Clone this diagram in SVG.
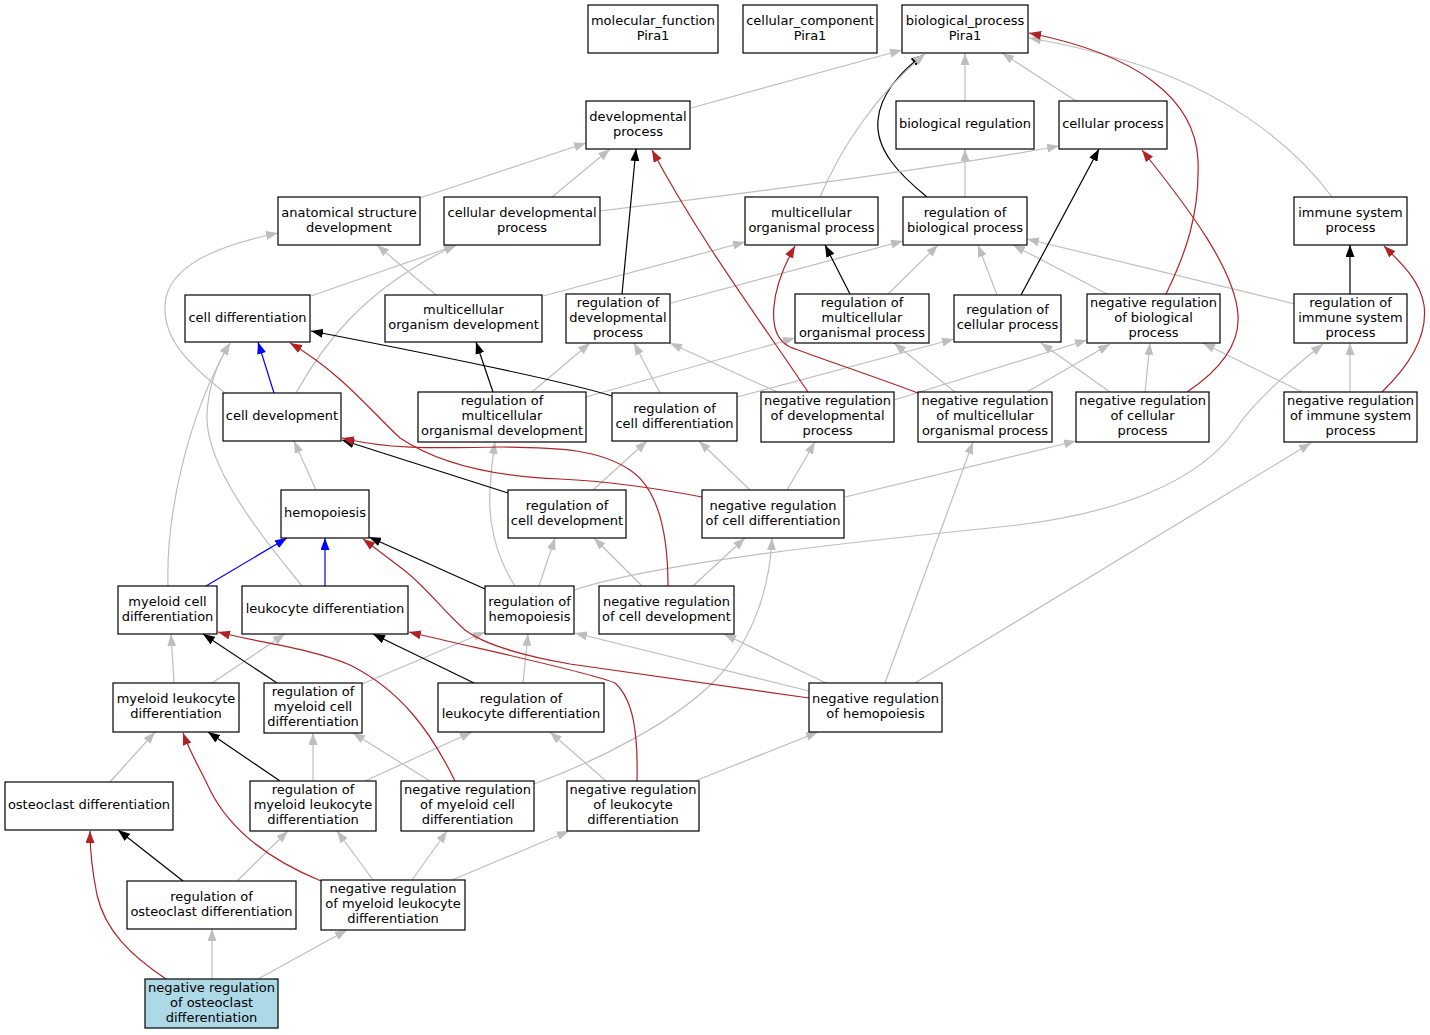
<svg xmlns="http://www.w3.org/2000/svg" width="1430" height="1035" viewBox="0 0 1430 1035">
<style>
.node rect{fill:#ffffff;stroke:#000000;stroke-width:1.2}
.node.hl rect{fill:#add8e6}
.node text{font-family:"DejaVu Sans","Liberation Sans",sans-serif;font-size:13px;fill:#000000;text-anchor:middle}
.e{fill:none;stroke-width:1.2}
.g{stroke:#bebebe;marker-end:url(#ag)}
.k{stroke:#000000;marker-end:url(#ak)}
.r{stroke:#b22222;marker-end:url(#ar)}
.b{stroke:#0000ff;marker-end:url(#ab)}
</style>
<defs>
<marker id="ag" viewBox="0 0 12 9" refX="12" refY="4.5" markerWidth="12" markerHeight="9" markerUnits="userSpaceOnUse" orient="auto"><path d="M0,0L12,4.5L0,9z" fill="#bebebe"/></marker>
<marker id="ak" viewBox="0 0 12 9" refX="12" refY="4.5" markerWidth="12" markerHeight="9" markerUnits="userSpaceOnUse" orient="auto"><path d="M0,0L12,4.5L0,9z" fill="#000000"/></marker>
<marker id="ar" viewBox="0 0 12 9" refX="12" refY="4.5" markerWidth="12" markerHeight="9" markerUnits="userSpaceOnUse" orient="auto"><path d="M0,0L12,4.5L0,9z" fill="#b22222"/></marker>
<marker id="ab" viewBox="0 0 12 9" refX="12" refY="4.5" markerWidth="12" markerHeight="9" markerUnits="userSpaceOnUse" orient="auto"><path d="M0,0L12,4.5L0,9z" fill="#0000ff"/></marker>
</defs>
<rect x="0" y="0" width="1430" height="1035" fill="#ffffff"/>
<g id="edges">
<path class="e k" d="M927,197 C900,175 875,150 878,120 C880,95 900,72 923,55"/>
<path class="e g" d="M691,108 L902,50"/>
<path class="e g" d="M965,101 L965,53"/>
<path class="e g" d="M1076,101 L1002,53"/>
<path class="e g" d="M420,198 L586,143"/>
<path class="e g" d="M552,197 L610,149"/>
<path class="e g" d="M600,211 Q900,175 1059,146"/>
<path class="e g" d="M820,197 C840,150 875,95 925,54"/>
<path class="e g" d="M965,197 L965,149"/>
<path class="e g" d="M1332,197 C1290,140 1220,90 1130,62 C1090,50 1060,43 1029,38"/>
<path class="e g" d="M311,296 L457,245"/>
<path class="e g" d="M436,295 L377,245"/>
<path class="e g" d="M543,296 L745,242"/>
<path class="e g" d="M671,303 L903,241"/>
<path class="e g" d="M888,294 L938,245"/>
<path class="e g" d="M997,295 L978,245"/>
<path class="e g" d="M1107,294 L1013,245"/>
<path class="e g" d="M1295,304 L1027,239"/>
<path class="e g" d="M225,393 C190,365 163,340 165,305 C167,265 220,245 278,233"/>
<path class="e g" d="M296,393 C320,350 360,290 456,245"/>
<path class="e g" d="M532,392 L590,343"/>
<path class="e g" d="M586,397 L795,338"/>
<path class="e g" d="M660,393 L634,343"/>
<path class="e g" d="M737,397 L954,339"/>
<path class="e g" d="M777,392 L670,343"/>
<path class="e g" d="M894,400 L1087,340"/>
<path class="e g" d="M955,392 L894,343"/>
<path class="e g" d="M1027,392 L1110,344"/>
<path class="e g" d="M1110,392 L1041,343"/>
<path class="e g" d="M1145,392 L1150,343"/>
<path class="e g" d="M1350,392 L1350,343"/>
<path class="e g" d="M1302,392 L1203,343"/>
<path class="e g" d="M316,490 L294,441"/>
<path class="e g" d="M593,490 L647,441"/>
<path class="e g" d="M750,490 L699,441"/>
<path class="e g" d="M787,490 L815,442"/>
<path class="e g" d="M845,497 L1076,441"/>
<path class="e g" d="M168,586 C166,520 185,420 230,343"/>
<path class="e g" d="M302,586 C260,535 205,465 207,415 C208,385 218,362 230,343"/>
<path class="e g" d="M539,586 L555,538"/>
<path class="e g" d="M515,586 C495,555 488,520 490,490 C491,470 493,455 495,442"/>
<path class="e g" d="M574,590 C650,565 820,545 1000,527 C1120,515 1200,480 1235,430 C1255,400 1290,370 1323,344"/>
<path class="e g" d="M642,586 L594,538"/>
<path class="e g" d="M693,586 L745,538"/>
<path class="e g" d="M174,683 L171,634"/>
<path class="e g" d="M212,683 L285,634"/>
<path class="e g" d="M362,684 L485,632"/>
<path class="e g" d="M523,683 L528,634"/>
<path class="e g" d="M809,691 L575,633"/>
<path class="e g" d="M826,683 L724,634"/>
<path class="e g" d="M885,683 L973,442"/>
<path class="e g" d="M915,683 L1311,443"/>
<path class="e g" d="M110,782 L155,732"/>
<path class="e g" d="M313,781 L313,733"/>
<path class="e g" d="M365,781 L472,732"/>
<path class="e g" d="M430,781 L353,733"/>
<path class="e g" d="M534,784 C595,762 680,720 720,675 C755,635 770,585 772,538"/>
<path class="e g" d="M606,781 L550,732"/>
<path class="e g" d="M695,781 L818,732"/>
<path class="e g" d="M237,881 L288,831"/>
<path class="e g" d="M373,880 L337,831"/>
<path class="e g" d="M412,880 L447,831"/>
<path class="e g" d="M452,880 L569,831"/>
<path class="e g" d="M212,979 L212,929"/>
<path class="e g" d="M258,979 L347,930"/>
<path class="e k" d="M622,294 L636,149"/>
<path class="e k" d="M850,294 L825,245"/>
<path class="e k" d="M1021,295 L1099,149"/>
<path class="e k" d="M1350,294 L1350,245"/>
<path class="e k" d="M493,392 L476,342"/>
<path class="e k" d="M612,396 C560,380 420,352 311,331"/>
<path class="e k" d="M508,493 L342,440"/>
<path class="e k" d="M485,589 L369,537"/>
<path class="e k" d="M277,683 L203,634"/>
<path class="e k" d="M474,683 L373,634"/>
<path class="e k" d="M280,781 L208,732"/>
<path class="e k" d="M183,881 L118,830"/>
<path class="e r" d="M1166,294 C1185,255 1200,215 1198,160 C1195,100 1140,55 1029,33"/>
<path class="e r" d="M1187,392 C1220,370 1240,345 1238,315 C1235,270 1190,210 1142,150"/>
<path class="e r" d="M1382,392 C1410,365 1428,335 1424,305 C1420,280 1400,262 1384,246"/>
<path class="e r" d="M808,392 C760,320 700,240 652,150"/>
<path class="e r" d="M918,393 C870,375 810,355 790,347 C765,335 770,290 795,246"/>
<path class="e r" d="M702,497 C650,487 600,481 560,479 C480,476 430,458 400,438 C370,410 340,372 290,343"/>
<path class="e r" d="M668,586 C668,540 660,490 630,470 C600,450 560,447 500,447 C440,448 390,450 342,438"/>
<path class="e r" d="M809,698 L570,664 C520,655 485,645 465,630 C440,608 425,585 400,567 C388,558 375,548 363,539"/>
<path class="e r" d="M637,781 C638,735 634,700 615,683 C590,672 470,647 409,632"/>
<path class="e r" d="M455,781 C430,730 400,690 350,665 C310,648 260,643 218,632"/>
<path class="e r" d="M321,881 C270,860 230,830 210,790 C198,765 190,752 183,733"/>
<path class="e r" d="M166,979 C130,955 105,930 97,895 C92,870 90,850 90,831"/>
<path class="e b" d="M274,393 L258,342"/>
<path class="e b" d="M206,586 L287,538"/>
<path class="e b" d="M325,586 L325,538"/>
</g>
<g id="n_mf" class="node"><rect x="588" y="5" width="130" height="48"/><text><tspan x="653" y="24.5">molecular_function</tspan><tspan x="653" y="39.5">Pira1</tspan></text></g>
<g id="n_cc" class="node"><rect x="743" y="5" width="134" height="48"/><text><tspan x="810" y="24.5">cellular_component</tspan><tspan x="810" y="39.5">Pira1</tspan></text></g>
<g id="n_bp" class="node"><rect x="902" y="5" width="126" height="48"/><text><tspan x="965" y="24.5">biological_process</tspan><tspan x="965" y="39.5">Pira1</tspan></text></g>
<g id="n_dp" class="node"><rect x="586" y="101" width="104" height="48"/><text><tspan x="638" y="120.5">developmental</tspan><tspan x="638" y="135.5">process</tspan></text></g>
<g id="n_br" class="node"><rect x="896" y="101" width="138" height="48"/><text><tspan x="965" y="128">biological regulation</tspan></text></g>
<g id="n_cp" class="node"><rect x="1059" y="101" width="108" height="48"/><text><tspan x="1113" y="128">cellular process</tspan></text></g>
<g id="n_asd" class="node"><rect x="278" y="197" width="142" height="48"/><text><tspan x="349" y="216.5">anatomical structure</tspan><tspan x="349" y="231.5">development</tspan></text></g>
<g id="n_cdp" class="node"><rect x="444" y="197" width="156" height="48"/><text><tspan x="522" y="216.5">cellular developmental</tspan><tspan x="522" y="231.5">process</tspan></text></g>
<g id="n_mop" class="node"><rect x="745" y="197" width="133" height="48"/><text><tspan x="811.5" y="216.5">multicellular</tspan><tspan x="811.5" y="231.5">organismal process</tspan></text></g>
<g id="n_rbp" class="node"><rect x="903" y="197" width="124" height="48"/><text><tspan x="965" y="216.5">regulation of</tspan><tspan x="965" y="231.5">biological process</tspan></text></g>
<g id="n_isp" class="node"><rect x="1294" y="197" width="113" height="48"/><text><tspan x="1350.5" y="216.5">immune system</tspan><tspan x="1350.5" y="231.5">process</tspan></text></g>
<g id="n_cd" class="node"><rect x="185" y="295" width="125" height="47"/><text><tspan x="247.5" y="321.5">cell differentiation</tspan></text></g>
<g id="n_mod" class="node"><rect x="385" y="295" width="157" height="47"/><text><tspan x="463.5" y="314">multicellular</tspan><tspan x="463.5" y="329">organism development</tspan></text></g>
<g id="n_rdp" class="node"><rect x="566" y="294" width="104" height="49"/><text><tspan x="618" y="306.5">regulation of</tspan><tspan x="618" y="321.5">developmental</tspan><tspan x="618" y="336.5">process</tspan></text></g>
<g id="n_rmop" class="node"><rect x="795" y="294" width="134" height="49"/><text><tspan x="862" y="306.5">regulation of</tspan><tspan x="862" y="321.5">multicellular</tspan><tspan x="862" y="336.5">organismal process</tspan></text></g>
<g id="n_rcp" class="node"><rect x="954" y="295" width="107" height="47"/><text><tspan x="1007.5" y="314">regulation of</tspan><tspan x="1007.5" y="329">cellular process</tspan></text></g>
<g id="n_nrbp" class="node"><rect x="1087" y="294" width="133" height="49"/><text><tspan x="1153.5" y="306.5">negative regulation</tspan><tspan x="1153.5" y="321.5">of biological</tspan><tspan x="1153.5" y="336.5">process</tspan></text></g>
<g id="n_risp" class="node"><rect x="1294" y="294" width="113" height="49"/><text><tspan x="1350.5" y="306.5">regulation of</tspan><tspan x="1350.5" y="321.5">immune system</tspan><tspan x="1350.5" y="336.5">process</tspan></text></g>
<g id="n_cdev" class="node"><rect x="223" y="393" width="118" height="48"/><text><tspan x="282" y="420">cell development</tspan></text></g>
<g id="n_rmod" class="node"><rect x="418" y="392" width="168" height="50"/><text><tspan x="502" y="405">regulation of</tspan><tspan x="502" y="420">multicellular</tspan><tspan x="502" y="435">organismal development</tspan></text></g>
<g id="n_rcd" class="node"><rect x="612" y="393" width="125" height="48"/><text><tspan x="674.5" y="412.5">regulation of</tspan><tspan x="674.5" y="427.5">cell differentiation</tspan></text></g>
<g id="n_nrdp" class="node"><rect x="761" y="392" width="133" height="50"/><text><tspan x="827.5" y="405">negative regulation</tspan><tspan x="827.5" y="420">of developmental</tspan><tspan x="827.5" y="435">process</tspan></text></g>
<g id="n_nrmop" class="node"><rect x="918" y="392" width="134" height="50"/><text><tspan x="985" y="405">negative regulation</tspan><tspan x="985" y="420">of multicellular</tspan><tspan x="985" y="435">organismal process</tspan></text></g>
<g id="n_nrcp" class="node"><rect x="1076" y="392" width="133" height="50"/><text><tspan x="1142.5" y="405">negative regulation</tspan><tspan x="1142.5" y="420">of cellular</tspan><tspan x="1142.5" y="435">process</tspan></text></g>
<g id="n_nrisp" class="node"><rect x="1284" y="392" width="133" height="50"/><text><tspan x="1350.5" y="405">negative regulation</tspan><tspan x="1350.5" y="420">of immune system</tspan><tspan x="1350.5" y="435">process</tspan></text></g>
<g id="n_hemo" class="node"><rect x="281" y="490" width="88" height="48"/><text><tspan x="325" y="517">hemopoiesis</tspan></text></g>
<g id="n_rcdev" class="node"><rect x="508" y="490" width="118" height="48"/><text><tspan x="567" y="509.5">regulation of</tspan><tspan x="567" y="524.5">cell development</tspan></text></g>
<g id="n_ncd" class="node"><rect x="702" y="490" width="142" height="48"/><text><tspan x="773" y="509.5">negative regulation</tspan><tspan x="773" y="524.5">of cell differentiation</tspan></text></g>
<g id="n_mcd" class="node"><rect x="118" y="586" width="99" height="48"/><text><tspan x="167.5" y="605.5">myeloid cell</tspan><tspan x="167.5" y="620.5">differentiation</tspan></text></g>
<g id="n_ld" class="node"><rect x="242" y="586" width="166" height="48"/><text><tspan x="325" y="613">leukocyte differentiation</tspan></text></g>
<g id="n_rh" class="node"><rect x="485" y="586" width="89" height="48"/><text><tspan x="529.5" y="605.5">regulation of</tspan><tspan x="529.5" y="620.5">hemopoiesis</tspan></text></g>
<g id="n_ncdev" class="node"><rect x="599" y="586" width="135" height="48"/><text><tspan x="666.5" y="605.5">negative regulation</tspan><tspan x="666.5" y="620.5">of cell development</tspan></text></g>
<g id="n_mld" class="node"><rect x="113" y="683" width="126" height="49"/><text><tspan x="176" y="703">myeloid leukocyte</tspan><tspan x="176" y="718">differentiation</tspan></text></g>
<g id="n_rmcd" class="node"><rect x="264" y="683" width="98" height="50"/><text><tspan x="313" y="696">regulation of</tspan><tspan x="313" y="711">myeloid cell</tspan><tspan x="313" y="726">differentiation</tspan></text></g>
<g id="n_rld" class="node"><rect x="438" y="683" width="166" height="49"/><text><tspan x="521" y="703">regulation of</tspan><tspan x="521" y="718">leukocyte differentiation</tspan></text></g>
<g id="n_nrh" class="node"><rect x="809" y="683" width="133" height="49"/><text><tspan x="875.5" y="703">negative regulation</tspan><tspan x="875.5" y="718">of hemopoiesis</tspan></text></g>
<g id="n_od" class="node"><rect x="5" y="782" width="168" height="48"/><text><tspan x="89" y="809">osteoclast differentiation</tspan></text></g>
<g id="n_rmld" class="node"><rect x="250" y="781" width="126" height="50"/><text><tspan x="313" y="794">regulation of</tspan><tspan x="313" y="809">myeloid leukocyte</tspan><tspan x="313" y="824">differentiation</tspan></text></g>
<g id="n_nmcd" class="node"><rect x="401" y="781" width="133" height="50"/><text><tspan x="467.5" y="794">negative regulation</tspan><tspan x="467.5" y="809">of myeloid cell</tspan><tspan x="467.5" y="824">differentiation</tspan></text></g>
<g id="n_nrld" class="node"><rect x="567" y="781" width="132" height="50"/><text><tspan x="633" y="794">negative regulation</tspan><tspan x="633" y="809">of leukocyte</tspan><tspan x="633" y="824">differentiation</tspan></text></g>
<g id="n_rod" class="node"><rect x="127" y="881" width="169" height="48"/><text><tspan x="211.5" y="900.5">regulation of</tspan><tspan x="211.5" y="915.5">osteoclast differentiation</tspan></text></g>
<g id="n_nrmld" class="node"><rect x="321" y="880" width="144" height="50"/><text><tspan x="393" y="893">negative regulation</tspan><tspan x="393" y="908">of myeloid leukocyte</tspan><tspan x="393" y="923">differentiation</tspan></text></g>
<g id="n_nrod" class="node hl"><rect x="145" y="979" width="133" height="49"/><text><tspan x="211.5" y="991.5">negative regulation</tspan><tspan x="211.5" y="1006.5">of osteoclast</tspan><tspan x="211.5" y="1021.5">differentiation</tspan></text></g>
</svg>
